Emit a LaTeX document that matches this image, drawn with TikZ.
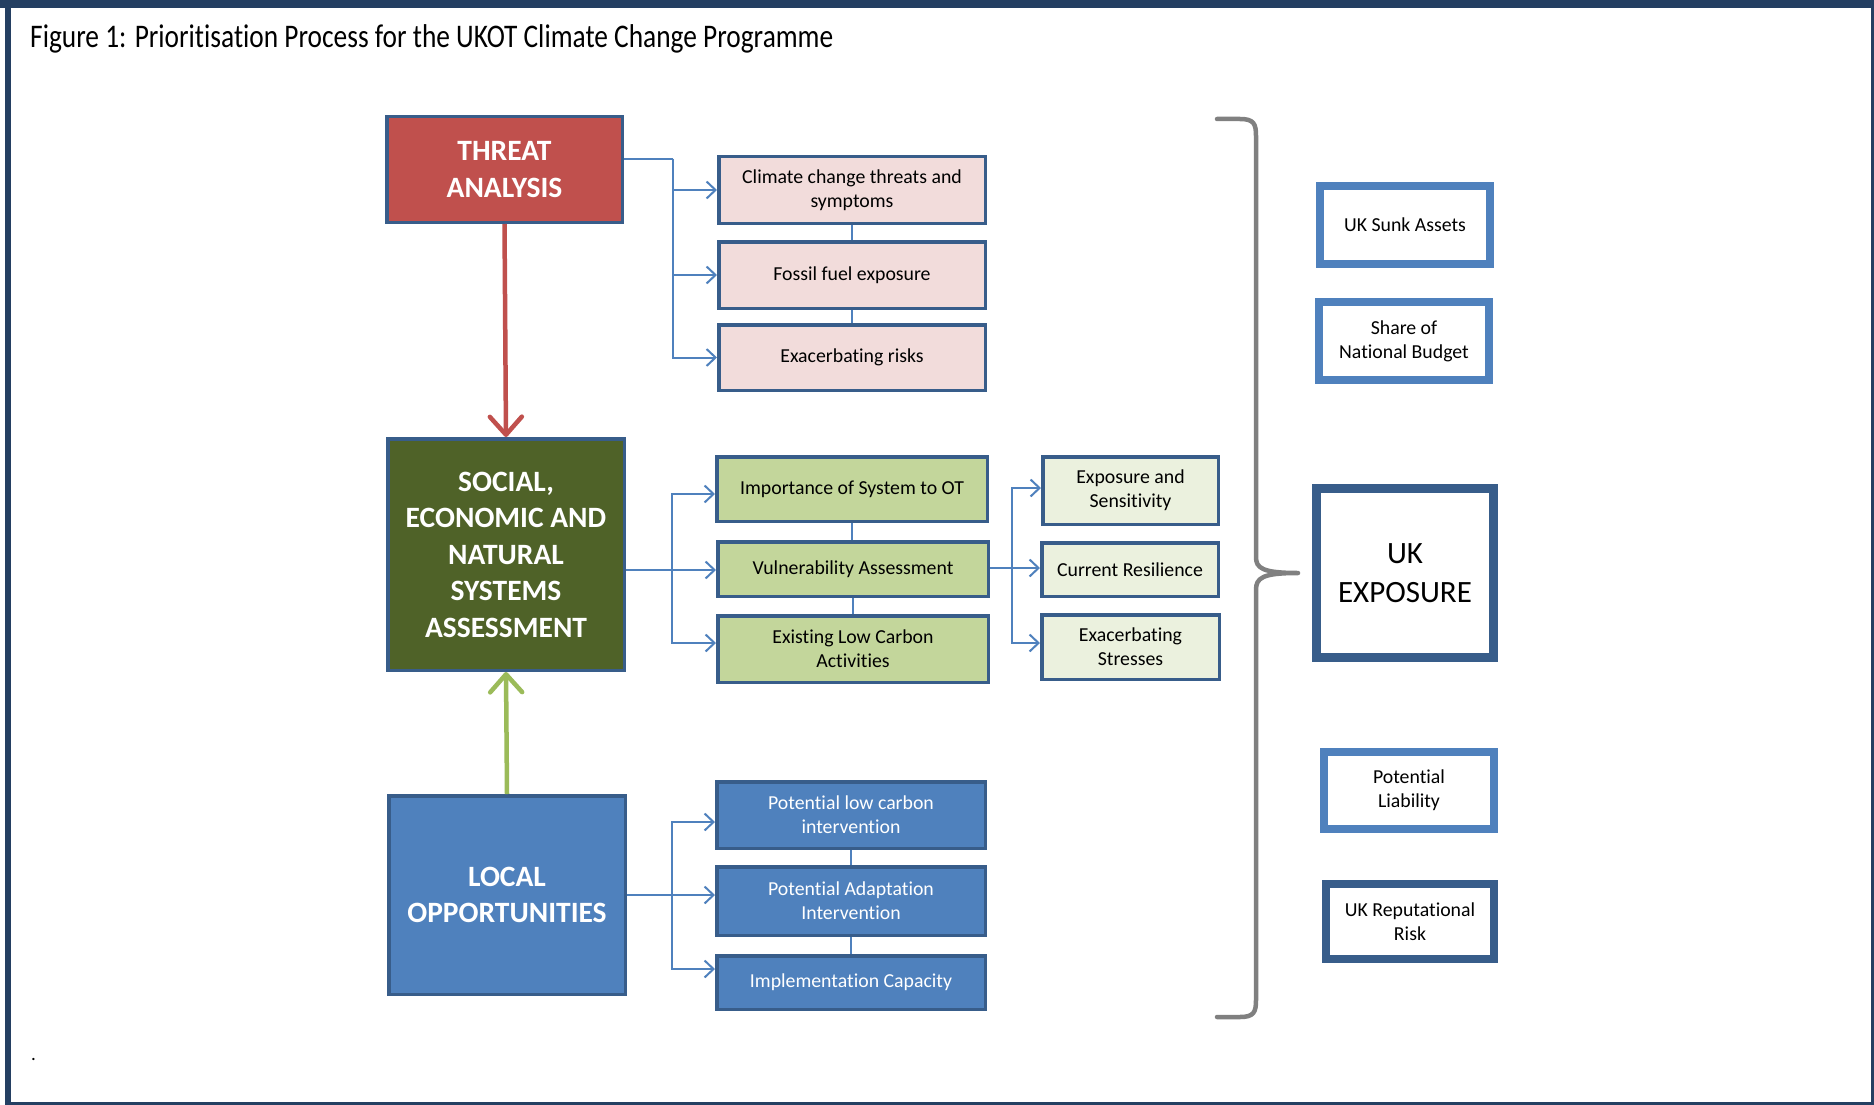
\documentclass[tikz,border=0pt]{standalone}
\usepackage{fontspec}
\setmainfont{Carlito}[Ligatures=NoCommon]
\usetikzlibrary{arrows.meta}
\definecolor{frameblue}{HTML}{243F62}
\definecolor{boxblue}{HTML}{385D8A}
\definecolor{midblue}{HTML}{4F81BD}
\definecolor{threatred}{HTML}{C0504D}
\definecolor{olive}{HTML}{4F6228}
\definecolor{pinkfill}{HTML}{F2DCDB}
\definecolor{greenfill}{HTML}{C3D69B}
\definecolor{palegreen}{HTML}{EBF1DE}
\definecolor{arrowgreen}{HTML}{9BBB59}
\definecolor{bracegray}{HTML}{808080}
\begin{document}
\begin{tikzpicture}[x=1pt,y=-1pt,
  box/.style={draw=boxblue, line width=3.5pt, align=center, inner sep=2pt},
  bigbox/.style={box, text=white, font=\fontsize{29.5}{36.5}\selectfont\bfseries},
  smallbox/.style={box, text=black, font=\fontsize{19.8}{24}\selectfont},
  sidebox/.style={line width=8pt, fill=white, align=center, inner sep=2pt, font=\fontsize{19.8}{24}\selectfont},
  conn/.style={draw=midblue, line width=2pt, -{Straight Barb[length=9pt,width=17pt]}},
  link/.style={draw=midblue, line width=1.6pt},
  bigarrow/.style={line width=4.5pt, -{Straight Barb[length=18pt,width=32pt,round]}}]
\useasboundingbox (0,0) rectangle (1874,1105);
\fill[white] (0,0) rectangle (1874,1105);
% frame
\fill[frameblue] (0,0) rectangle (1874,8);
\fill[frameblue] (5,0) rectangle (11,1105);
\draw[frameblue, line width=3pt] (11,1103.5) -- (1872.5,1103.5) -- (1872.5,0);

% title
\node[anchor=base west, inner sep=0pt, font=\fontsize{33}{38}\selectfont] (title) at (30,48)
  {\resizebox{803pt}{\height}{Figure 1: Prioritisation Process for the UKOT Climate Change Programme}};

% main boxes
\node[bigbox, fill=threatred, minimum width=235.5pt, minimum height=105.5pt] (threat) at (504.5,169.5) {THREAT\\ANALYSIS};
\node[bigbox, fill=olive, minimum width=236.5pt, minimum height=231.5pt] (social) at (506,554.5) {SOCIAL,\\ECONOMIC AND\\NATURAL\\SYSTEMS\\ASSESSMENT};
\node[bigbox, fill=midblue, minimum width=236.5pt, minimum height=198.5pt] (local) at (507,895) {LOCAL\\OPPORTUNITIES};

% pink boxes
\node[smallbox, fill=pinkfill, minimum width=266.5pt, minimum height=66.5pt] (p1) at (852,190) {Climate change threats and\\symptoms};
\node[smallbox, fill=pinkfill, minimum width=266.5pt, minimum height=66.5pt] (p2) at (852,275) {Fossil fuel exposure};
\node[smallbox, fill=pinkfill, minimum width=266.5pt, minimum height=65.5pt] (p3) at (852,357.5) {Exacerbating risks};

% green boxes
\node[smallbox, fill=greenfill, minimum width=270.5pt, minimum height=64.5pt] (g1) at (852,489) {Importance of System to OT};
\node[smallbox, fill=greenfill, minimum width=270.5pt, minimum height=54.5pt] (g2) at (853,569) {Vulnerability Assessment};
\node[smallbox, fill=greenfill, minimum width=270.5pt, minimum height=66.5pt] (g3) at (853,649) {Existing Low Carbon\\Activities};

% pale green boxes
\node[smallbox, fill=palegreen, minimum width=175.5pt, minimum height=67.5pt] (l1) at (1130.5,490.5) {Exposure and\\Sensitivity};
\node[smallbox, fill=palegreen, minimum width=176.5pt, minimum height=53.5pt] (l2) at (1130,569.5) {Current Resilience};
\node[smallbox, fill=palegreen, minimum width=177.5pt, minimum height=64.5pt] (l3) at (1130.5,647) {Exacerbating\\Stresses};

% blue boxes
\node[smallbox, fill=midblue, text=white, minimum width=268.5pt, minimum height=66.5pt] (b1) at (851,815) {Potential low carbon\\intervention};
\node[smallbox, fill=midblue, text=white, minimum width=268.5pt, minimum height=68.5pt] (b2) at (851,901) {Potential Adaptation\\Intervention};
\node[smallbox, fill=midblue, text=white, minimum width=268.5pt, minimum height=53.5pt] (b3) at (851,982.5) {Implementation Capacity};

% right side boxes
\node[sidebox, draw=midblue, minimum width=170pt, minimum height=78pt] (sunk) at (1405,225) {UK Sunk Assets};
\node[sidebox, draw=midblue, minimum width=170pt, minimum height=78pt] (share) at (1404,341) {Share of\\National Budget};
\node[sidebox, draw=boxblue, line width=9pt, minimum width=177pt, minimum height=169pt, font=\fontsize{31}{39.5}\selectfont] (exposure) at (1405,573) {UK\\EXPOSURE};
\node[sidebox, draw=midblue, minimum width=170pt, minimum height=77pt] (liab) at (1409,790.5) {Potential\\Liability};
\node[sidebox, draw=boxblue, minimum width=168pt, minimum height=75pt] (repu) at (1410,921.5) {UK Reputational\\Risk};

% big arrows
\draw[bigarrow, threatred] (threat.south) -- (social.north);
\draw[bigarrow, arrowgreen] (local.north) -- (social.south);

% threat connectors
\coordinate (tj) at (673,159);
\draw[link, line width=2pt] (tj -| threat.east) -- (tj);
\draw[conn] (tj) |- (p1.west);
\draw[conn] (tj) |- (p2.west);
\draw[conn] (tj) |- (p3.west);
\draw[link] (p1.south) -- (p2.north);
\draw[link] (p2.south) -- (p3.north);

% social connectors
\coordinate (sj) at (672,570);
\draw[link, line width=2pt] (sj -| social.east) -- (sj);
\draw[conn] (sj) |- ([yshift=-5pt]g1.west);
\draw[conn] (sj) -- (sj -| g2.west);
\draw[conn] (sj) |- ([yshift=6pt]g3.west);
\draw[link] (g1.south) -- (g1.south |- g2.north);
\draw[link] (g2.south) -- (g3.north);

% vulnerability connectors
\coordinate (vj) at (1012,568);
\draw[link, line width=2pt] (vj -| g2.east) -- (vj);
\draw[conn] (vj) |- ([yshift=2.5pt]l1.west);
\draw[conn] (vj) -- (vj -| l2.west);
\draw[conn] (vj) |- ([yshift=4pt]l3.west);

% local connectors
\coordinate (oj) at (672,895);
\draw[link, line width=2pt] (oj -| local.east) -- (oj);
\draw[conn] (oj) |- ([yshift=-7pt]b1.west);
\draw[conn] (oj) |- ([yshift=6pt]b2.west);
\draw[conn] (oj) |- ([yshift=13.5pt]b3.west);
\draw[link] (b1.south) -- (b2.north);
\draw[link] (b2.south) -- (b3.north);

% brace
\draw[bracegray, line width=4.5pt, line cap=round, line join=round]
  (1217,119) -- (1240,119) .. controls (1254,119) and (1256,124) .. (1256,136)
  -- (1256,557) .. controls (1256,568) and (1262,573) .. (1298,573)
  .. controls (1262,573) and (1256,578) .. (1256,590)
  -- (1256,1000) .. controls (1256,1012) and (1254,1017) .. (1240,1017) -- (1217,1017);

% stray dot
\node[anchor=base west, inner sep=0pt, font=\fontsize{19}{24}\selectfont] (dot) at (31,1060) {.};
\end{tikzpicture}
\end{document}
